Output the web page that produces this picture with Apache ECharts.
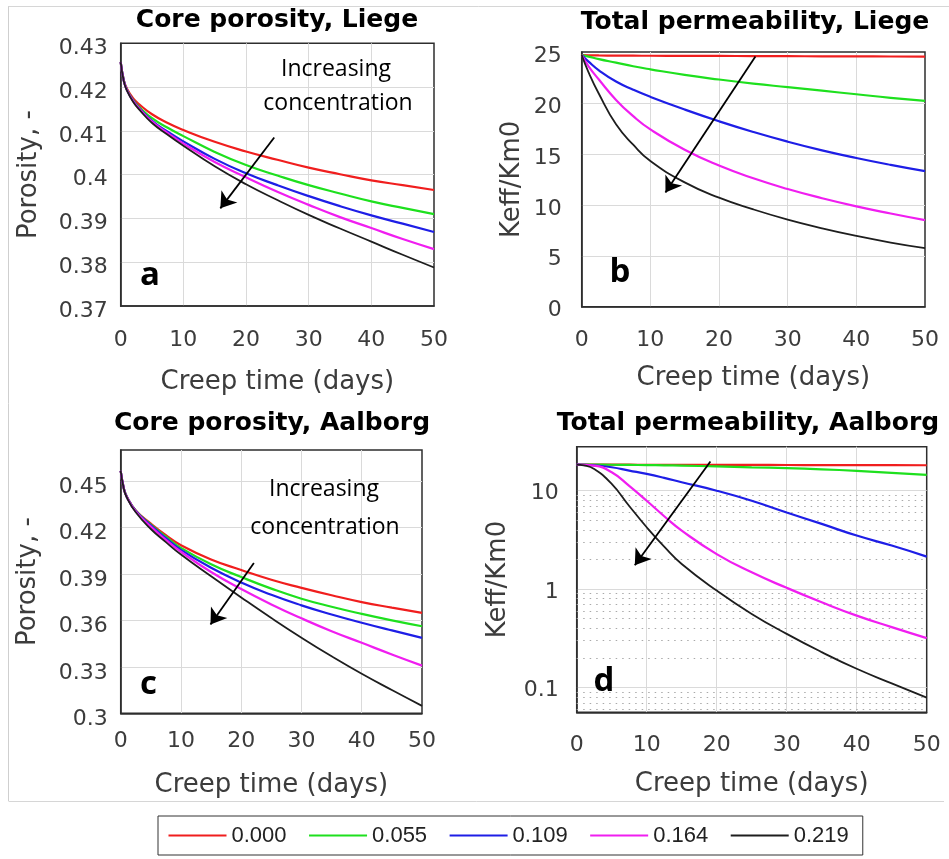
<!DOCTYPE html>
<html>
<head>
<meta charset="utf-8">
<script src="https://cdn.jsdelivr.net/npm/echarts@6/dist/echarts.min.js"></script>
<style>
html, body { margin: 0; padding: 0; background: #ffffff; }
#chart { width: 949px; height: 859px; }
</style>
</head>
<body>
<div id="chart"></div>
<script>
// Brine concentration of each curve (legend entries) and line colours
const concentrations = ['0.000', '0.055', '0.109', '0.164', '0.219'];
const lineColors = ['#f01e1e', '#1ee01e', '#1e1ee6', '#f01ef0', '#1e1e1e'];

// (a) Core porosity, Liege
const daysLiegePorosity = [0, 0.5, 1, 2, 3, 5, 7.5, 10, 15, 20, 25, 30, 35, 40, 45, 50];
const porosityLiege = [
  [0.4257, 0.4215, 0.4196, 0.4174, 0.4160, 0.4138, 0.4118, 0.4102, 0.4075, 0.4053, 0.4034, 0.4016, 0.4001, 0.3987, 0.3976, 0.3965],
  [0.4257, 0.4215, 0.4194, 0.4170, 0.4154, 0.4129, 0.4107, 0.4088, 0.4052, 0.4022, 0.3998, 0.3976, 0.3957, 0.3939, 0.3924, 0.3910],
  [0.4257, 0.4214, 0.4193, 0.4169, 0.4151, 0.4123, 0.4098, 0.4076, 0.4036, 0.4003, 0.3976, 0.3951, 0.3928, 0.3907, 0.3888, 0.3869],
  [0.4257, 0.4214, 0.4193, 0.4168, 0.4150, 0.4121, 0.4095, 0.4071, 0.4029, 0.3994, 0.3961, 0.3931, 0.3903, 0.3878, 0.3853, 0.3830],
  [0.4257, 0.4213, 0.4192, 0.4166, 0.4148, 0.4118, 0.4091, 0.4066, 0.4019, 0.3978, 0.3942, 0.3908, 0.3877, 0.3847, 0.3817, 0.3788]
];

// (b) Total permeability, Liege
const daysLiegePerm = [0, 1, 2.5, 5, 7.5, 10, 15, 20, 25, 30, 35, 40, 45, 50];
const permLiege = [
  [24.7, 24.68, 24.66, 24.65, 24.64, 24.63, 24.62, 24.61, 24.6, 24.59, 24.58, 24.57, 24.56, 24.55],
  [24.7, 24.55, 24.3, 23.95, 23.6, 23.3, 22.75, 22.3, 21.9, 21.55, 21.2, 20.85, 20.5, 20.2],
  [24.7, 24.05, 23.2, 22.1, 21.3, 20.6, 19.35, 18.2, 17.15, 16.2, 15.35, 14.6, 13.92, 13.3],
  [24.7, 23.6, 22.3, 20.3, 18.7, 17.4, 15.4, 13.85, 12.6, 11.55, 10.65, 9.85, 9.15, 8.5],
  [24.7, 23.0, 20.9, 17.9, 15.9, 14.3, 12.2, 10.7, 9.55, 8.55, 7.7, 6.95, 6.3, 5.75]
];

// (c) Core porosity, Aalborg
const daysAalborgPorosity = [0, 0.5, 1, 2.5, 5, 7.5, 10, 15, 20, 25, 30, 35, 40, 45, 50];
const porosityAalborg = [
  [0.4565, 0.4455, 0.4400, 0.4310, 0.4225, 0.4150, 0.4085, 0.3993, 0.3925, 0.3862, 0.3810, 0.3762, 0.3718, 0.3682, 0.3648],
  [0.4565, 0.4455, 0.4400, 0.4308, 0.4218, 0.4140, 0.4068, 0.3962, 0.3880, 0.3805, 0.3740, 0.3688, 0.3642, 0.3600, 0.3562],
  [0.4565, 0.4455, 0.4399, 0.4306, 0.4213, 0.4131, 0.4055, 0.3940, 0.3845, 0.3765, 0.3697, 0.3638, 0.3585, 0.3535, 0.3487],
  [0.4565, 0.4455, 0.4398, 0.4303, 0.4205, 0.4120, 0.4043, 0.3912, 0.3802, 0.3703, 0.3613, 0.3530, 0.3455, 0.3380, 0.3308],
  [0.4565, 0.4453, 0.4395, 0.4298, 0.4190, 0.4105, 0.4025, 0.3885, 0.3748, 0.3615, 0.3488, 0.3368, 0.3255, 0.3150, 0.3048]
];

// (d) Total permeability, Aalborg (log scale)
const daysAalborgPerm = [0, 1, 2.5, 5, 7.5, 10, 12.5, 15, 20, 25, 30, 35, 40, 45, 50];
const permAalborg = [
  [18.4, 18.4, 18.4, 18.38, 18.37, 18.35, 18.34, 18.33, 18.3, 18.27, 18.25, 18.22, 18.2, 18.18, 18.15],
  [18.4, 18.4, 18.38, 18.35, 18.28, 18.2, 18.1, 17.98, 17.65, 17.3, 16.95, 16.5, 15.9, 15.2, 14.45],
  [18.4, 18.35, 18.1, 17.3, 16.0, 14.8, 13.5, 12.2, 10.0, 7.9, 6.0, 4.6, 3.5, 2.77, 2.14],
  [18.4, 18.3, 18.0, 15.4, 11.2, 7.9, 5.5, 3.93, 2.27, 1.48, 1.03, 0.735, 0.538, 0.411, 0.318],
  [18.4, 18.1, 16.6, 11.7, 7.0, 4.25, 2.7, 1.8, 0.966, 0.56, 0.351, 0.229, 0.155, 0.11, 0.079]
];

// Minor grid levels of the logarithmic axis
const minorLogLevels = [0.06, 0.07, 0.08, 0.09, 0.2, 0.3, 0.4, 0.5, 0.6, 0.7, 0.8, 0.9, 2, 3, 4, 5, 6, 7, 8, 9];

const panels = [
  { days: daysLiegePorosity, values: porosityLiege, arrow: [[24.5, 0.4085], [15.9, 0.3923]] },
  { days: daysLiegePerm, values: permLiege, arrow: [[25.3, 24.55], [12.2, 11.2]] },
  { days: daysAalborgPorosity, values: porosityAalborg, arrow: [[22.1, 0.3971], [14.9, 0.3574]] },
  { days: daysAalborgPerm, values: permAalborg, arrow: [[19.1, 19.8], [8.3, 1.75]] }
];

const labelFont = 'DejaVu Sans';
const axisGrey = '#3c3c3c';

function fmtNum(v) {
  return String(parseFloat(Number(v).toFixed(3)));
}

const grids = [
  { left: 120.7, top: 43.3, width: 313.3, height: 262.7 },
  { left: 581.7, top: 52, width: 343.3, height: 254.7 },
  { left: 120.7, top: 450, width: 301.3, height: 263.3 },
  { left: 576.7, top: 446.7, width: 350, height: 265.6 }
].map(g => Object.assign({ show: true, borderColor: '#2e2e2e', borderWidth: 1.5, backgroundColor: '#fff' }, g));

const xLabelMargins = [23, 23, 17, 22];
const xNameGaps = [63, 59, 59, 59];
const xAxes = grids.map((g, i) => ({
  type: 'value', gridIndex: i, min: 0, max: 50, interval: 10,
  name: 'Creep time (days)', nameLocation: 'middle', nameGap: xNameGaps[i],
  nameTextStyle: { fontFamily: labelFont, fontSize: 26, color: axisGrey },
  axisLine: { show: true, lineStyle: { color: '#2e2e2e', width: 1.5 } },
  axisTick: { show: false },
  axisLabel: { fontFamily: labelFont, fontSize: 22, color: axisGrey, margin: xLabelMargins[i] },
  splitLine: { show: true, showMinLine: false, showMaxLine: false, lineStyle: { color: '#dadada', width: 1 } }
}));

// y labels sit slightly below their grid lines
const yLabel = (margin, shift, formatter) => {
  const l = { fontFamily: labelFont, fontSize: 22, color: axisGrey, margin: margin,
    verticalAlign: 'top', lineHeight: shift * 2 };
  if (formatter) l.formatter = formatter;
  return l;
};

const yCommon = (i, extra) => Object.assign({
  gridIndex: i, nameLocation: 'middle',
  nameTextStyle: { fontFamily: labelFont, fontSize: 26, color: axisGrey },
  axisLine: { show: true, lineStyle: { color: '#2e2e2e', width: 1.5 } },
  axisTick: { show: false },
  splitLine: { show: true, showMinLine: false, showMaxLine: false, lineStyle: { color: '#dadada', width: 1 } }
}, extra);

const yAxes = [
  yCommon(0, { type: 'value', min: 0.37, max: 0.43, interval: 0.01, name: 'Porosity, -', nameGap: 78,
    axisLabel: yLabel(13, 5, fmtNum) }),
  yCommon(1, { type: 'value', min: 0, max: 25, interval: 5, name: 'Keff/Km0', nameGap: 56,
    axisLabel: yLabel(20, 4) }),
  yCommon(2, { type: 'value', min: 0.3, max: 0.47, interval: 0.03, name: 'Porosity, -', nameGap: 79,
    axisLabel: yLabel(13, 6, v => (v > 0.46 ? '' : fmtNum(v))) }),
  yCommon(3, { type: 'log', logBase: 10, min: 0.056, max: 28, name: 'Keff/Km0', nameGap: 65,
    axisLabel: yLabel(18, 3, v => {
      const l = Math.log10(v);
      return Math.abs(l - Math.round(l)) < 1e-6 ? fmtNum(Math.pow(10, Math.round(l))) : '';
    }) })
];

const series = [];
panels.forEach((p, pi) => {
  p.values.forEach((vals, ci) => {
    const s = {
      type: 'line',
      name: concentrations[ci],
      xAxisIndex: pi, yAxisIndex: pi,
      data: p.days.map((d, k) => [d, vals[k]]),
      symbol: 'none', showSymbol: false,
      smooth: 0.5,
      lineStyle: { color: lineColors[ci], width: ci === 4 ? 1.8 : 2.2 },
      itemStyle: { color: lineColors[ci] },
      z: 3
    };
    if (ci === 4) {
      // "Increasing concentration" arrow, placed in data coordinates
      s.markLine = {
        silent: true, animation: false,
        symbol: ['none', 'arrow'], symbolSize: 15,
        label: { show: false },
        lineStyle: { color: '#000', width: 1.8, type: 'solid' },
        itemStyle: { color: '#000' },
        data: [[{ coord: p.arrow[0] }, { coord: p.arrow[1] }]]
      };
    }
    if (pi === 3 && ci === 0) {
      // dotted minor grid of the logarithmic axis
      s.markLine = {
        silent: true, animation: false, z: 1,
        symbol: 'none', label: { show: false },
        lineStyle: { color: '#a9a9a9', width: 1, type: [1.5, 5] },
        data: minorLogLevels.map(v => ({ yAxis: v }))
      };
    }
    series.push(s);
  });
});

function txt(text, x, y, font) {
  return {
    type: 'text', x: x, y: y, z: 50, silent: true,
    style: {
      text: text, font: font, fill: '#000',
      textAlign: 'center', textVerticalAlign: 'middle',
      align: 'center', verticalAlign: 'middle'
    }
  };
}

const titleFont = 'bold 25px "DejaVu Sans"';
const noteFont = '23px "Open Sans"';
const letterFont = 'bold 33px "Open Sans"';

const graphics = [
  // outline of the figure area
  { type: 'line', z: 0, silent: true, shape: { x1: 8.5, y1: 6, x2: 8.5, y2: 801 }, style: { stroke: '#cfcfcf', lineWidth: 1 } },
  { type: 'line', z: 0, silent: true, shape: { x1: 8.5, y1: 6.5, x2: 949, y2: 6.5 }, style: { stroke: '#d6d6d6', lineWidth: 1 } },
  { type: 'line', z: 0, silent: true, shape: { x1: 8.5, y1: 801.5, x2: 944, y2: 801.5 }, style: { stroke: '#d6d6d6', lineWidth: 1 } },
  // panel titles
  txt('Core porosity, Liege', 277, 20, titleFont),
  txt('Total permeability, Liege', 755, 22.5, titleFont),
  txt('Core porosity, Aalborg', 272, 423.5, titleFont),
  txt('Total permeability, Aalborg', 748, 423.5, titleFont),
  // annotation text
  txt('Increasing', 336, 69, noteFont),
  txt('concentration', 338, 103.5, noteFont),
  txt('Increasing', 324, 489.5, noteFont),
  txt('concentration', 325, 527, noteFont),
  // panel letters
  txt('a', 150, 276, letterFont),
  txt('b', 620, 273, letterFont),
  txt('c', 148.5, 685, letterFont),
  txt('d', 604, 682, letterFont)
];

const chart = echarts.init(document.getElementById('chart'), null, { renderer: 'canvas' });
chart.setOption({
  animation: false,
  backgroundColor: '#ffffff',
  grid: grids,
  xAxis: xAxes,
  yAxis: yAxes,
  series: series,
  legend: {
    data: concentrations,
    left: 158, top: 816,
    icon: 'rect',
    itemWidth: 58, itemHeight: 2.2, itemGap: 22.5,
    padding: [8.5, 14, 8.5, 10.5],
    borderColor: '#333', borderWidth: 1,
    selectedMode: false,
    textStyle: { fontFamily: 'Liberation Sans', fontSize: 22, color: '#222' }
  },
  graphic: { elements: graphics }
});
</script>
</body>
</html>
